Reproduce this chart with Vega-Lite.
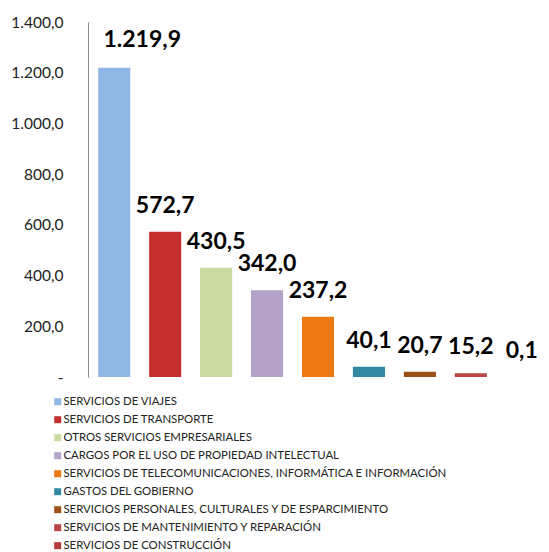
{
  "$schema": "https://vega.github.io/schema/vega-lite/v6.json",
  "width": 460,
  "height": 355,
  "autosize": {"type": "none"},
  "padding": {"left": 88, "top": 22, "right": 1, "bottom": 175},
  "config": {
    "view": {"stroke": null},
    "font": "Lato",
    "locale": {"number": {"decimal": ",", "thousands": ".", "grouping": [3], "currency": ["", ""]}}
  },
  "data": {
    "values": [
      {"categoria": "SERVICIOS DE VIAJES", "valor": 1219.9},
      {"categoria": "SERVICIOS DE TRANSPORTE", "valor": 572.7},
      {"categoria": "OTROS SERVICIOS EMPRESARIALES", "valor": 430.5},
      {"categoria": "CARGOS POR EL USO DE PROPIEDAD INTELECTUAL", "valor": 342.0},
      {"categoria": "SERVICIOS DE TELECOMUNICACIONES, INFORMÁTICA E INFORMACIÓN", "valor": 237.2},
      {"categoria": "GASTOS DEL GOBIERNO", "valor": 40.1},
      {"categoria": "SERVICIOS PERSONALES, CULTURALES Y DE ESPARCIMIENTO", "valor": 20.7},
      {"categoria": "SERVICIOS DE MANTENIMIENTO Y REPARACIÓN", "valor": 15.2},
      {"categoria": "SERVICIOS DE CONSTRUCCIÓN", "valor": 0.1}
    ]
  },
  "encoding": {
    "x": {
      "field": "categoria",
      "type": "nominal",
      "sort": null,
      "axis": null,
      "scale": {"paddingInner": 0.37, "paddingOuter": 0.2}
    },
    "y": {
      "field": "valor",
      "type": "quantitative",
      "scale": {"domain": [0, 1400], "nice": false},
      "axis": {
        "title": null,
        "values": [0, 200, 400, 600, 800, 1000, 1200, 1400],
        "labelExpr": "datum.value == 0 ? '-' : format(datum.value, ',.1f')",
        "ticks": false,
        "grid": false,
        "domainColor": "#8c8c8c",
        "labelFontSize": 15.5,
        "labelColor": "#222222",
        "labelPadding": 25
      }
    }
  },
  "layer": [
    {
      "mark": {"type": "bar"},
      "encoding": {
        "color": {
          "field": "categoria",
          "type": "nominal",
          "scale": {
            "domain": [
              "SERVICIOS DE VIAJES",
              "SERVICIOS DE TRANSPORTE",
              "OTROS SERVICIOS EMPRESARIALES",
              "CARGOS POR EL USO DE PROPIEDAD INTELECTUAL",
              "SERVICIOS DE TELECOMUNICACIONES, INFORMÁTICA E INFORMACIÓN",
              "GASTOS DEL GOBIERNO",
              "SERVICIOS PERSONALES, CULTURALES Y DE ESPARCIMIENTO",
              "SERVICIOS DE MANTENIMIENTO Y REPARACIÓN",
              "SERVICIOS DE CONSTRUCCIÓN"
            ],
            "range": ["#8fb6e4", "#c52f30", "#c9dba0", "#b4a3c9", "#ee7812", "#3389a3", "#9c4f16", "#b94744", "#b83b3b"]
          },
          "legend": {
            "orient": "none",
            "legendX": -36,
            "legendY": 374,
            "title": null,
            "direction": "vertical",
            "symbolType": "square",
            "symbolSize": 49,
            "symbolStrokeWidth": 0,
            "symbolOpacity": 1,
            "labelFontSize": 11.4,
            "labelColor": "#222222",
            "labelOffset": 0,
            "labelLimit": 500,
            "rowPadding": 5
          }
        }
      }
    },
    {
      "transform": [{"filter": "datum.valor >= 1000"}],
      "mark": {"type": "text", "fontWeight": "bold", "fontSize": 23, "baseline": "middle", "dy": -28, "dx": 28, "color": "#000000"},
      "encoding": {
        "text": {"field": "valor", "type": "quantitative", "format": ",.1f"}
      }
    },
    {
      "transform": [{"filter": "datum.valor < 1000"}],
      "mark": {"type": "text", "fontWeight": "bold", "fontSize": 23, "baseline": "middle", "dy": -26, "color": "#000000"},
      "encoding": {
        "text": {"field": "valor", "type": "quantitative", "format": ",.1f"}
      }
    }
  ]
}
